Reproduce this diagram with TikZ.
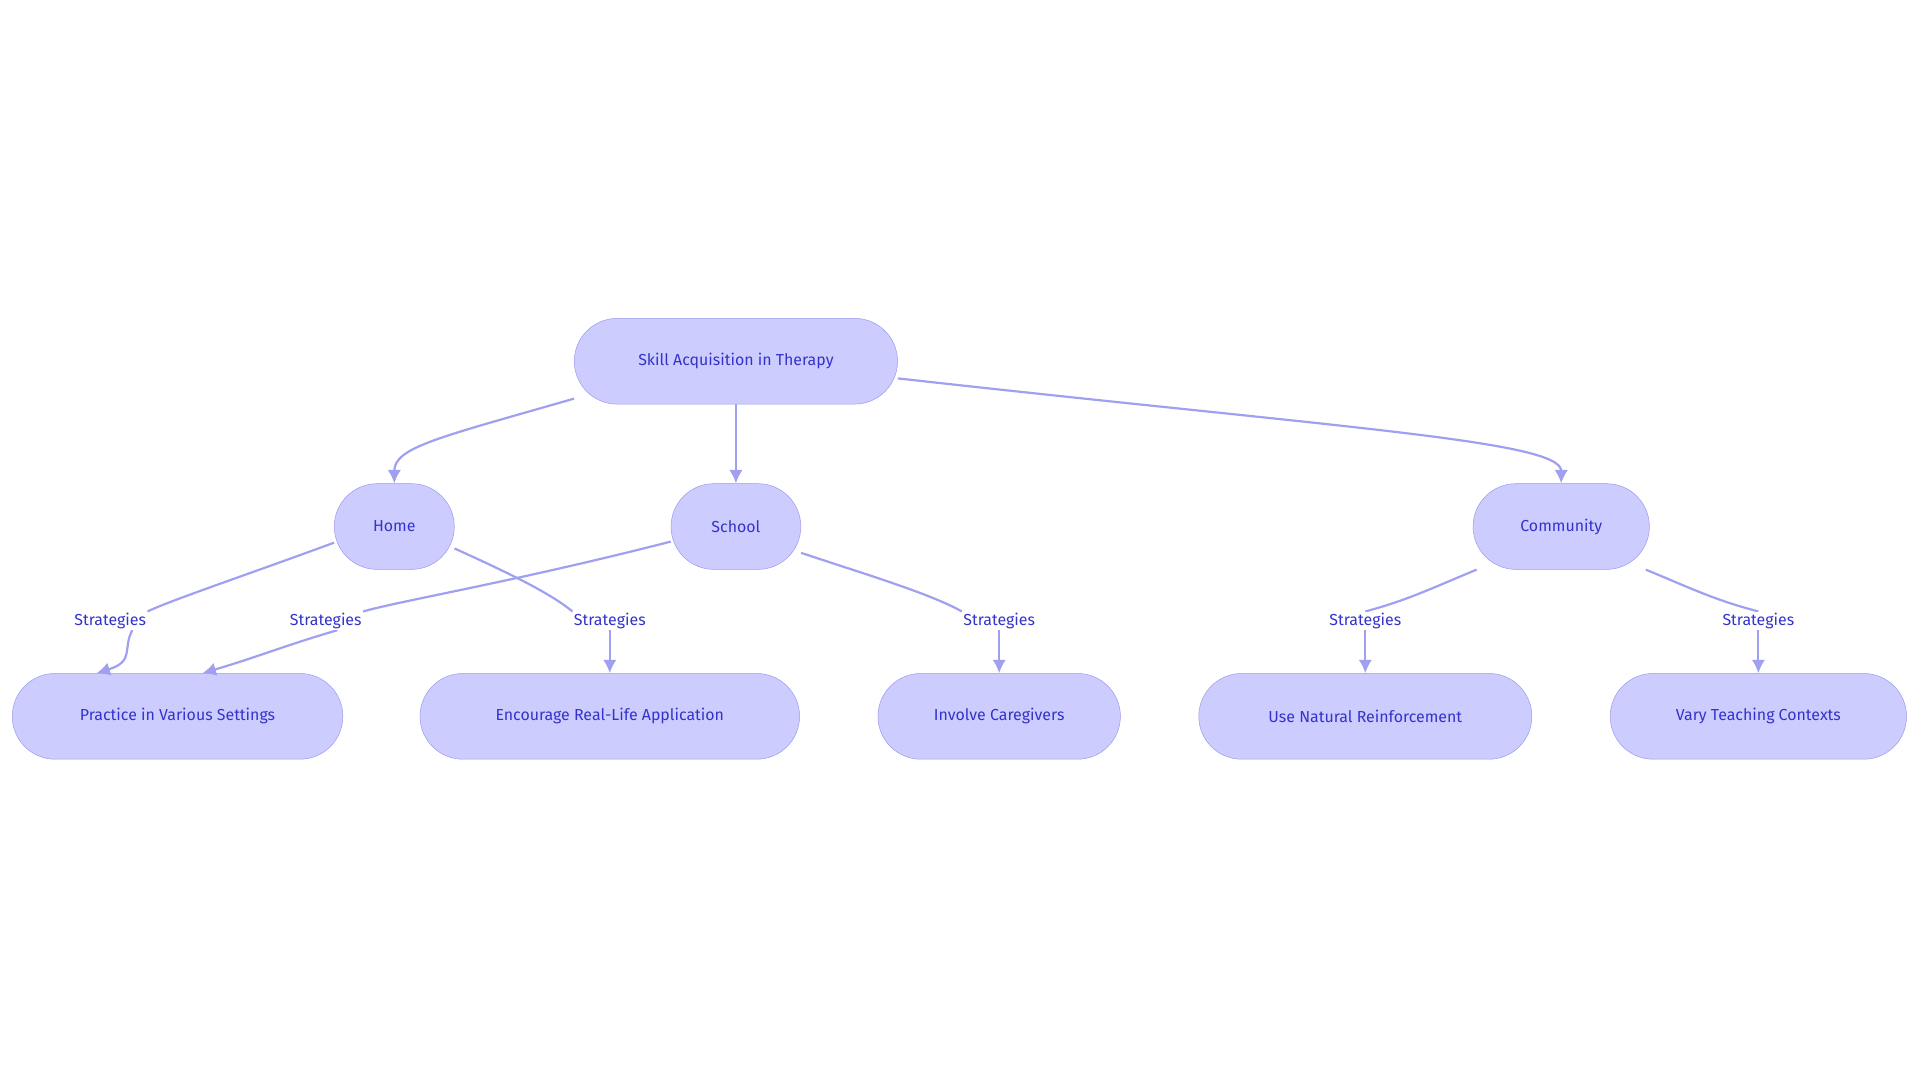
\documentclass[tikz,border=0pt]{standalone}
\usepackage{fontspec}
\setmainfont{Fira Sans}
\usetikzlibrary{arrows.meta}
\definecolor{nfill}{HTML}{CCCCFF}
\definecolor{nline}{HTML}{9999EE}
\definecolor{ntext}{HTML}{3333CC}
\definecolor{eline}{HTML}{A0A0F0}
\begin{document}
\begin{tikzpicture}[x=1pt,y=-1pt,
  box/.style={draw=nline,fill=nfill,rounded corners=35pt,minimum height=70pt,text=ntext,font=\fontsize{13}{15}\selectfont\addfontfeatures{Weight=Light},inner sep=0pt},
  lbl/.style={fill=white,text=ntext,font=\fontsize{13}{15}\selectfont\addfontfeatures{Weight=Light},inner sep=1pt},
  edge/.style={draw=eline,line width=1.8pt},
  arr/.style={edge,-{Latex[length=11pt,width=11pt]}}]
\useasboundingbox (0,0) rectangle (1568,884);
\node[box,minimum width=264pt] (root) at (601,295) {Skill Acquisition in Therapy};
\node[box,minimum width=98pt] (home) at (322,430) {Home};
\node[box,minimum width=106pt] (school) at (601,430) {School};
\node[box,minimum width=144pt] (comm) at (1275,430) {Community};
\node[box,minimum width=270pt] (prac) at (145,585) {Practice in Various Settings};
\node[box,minimum width=310pt] (enc) at (498,585) {Encourage Real-Life Application};
\node[box,minimum width=198pt] (inv) at (816,585) {Involve Caregivers};
\node[box,minimum width=272pt] (nat) at (1115,585) {Use Natural Reinforcement};
\node[box,minimum width=242pt] (vary) at (1436,585) {Vary Teaching Contexts};
% top edges
\draw[arr] (root.193) .. controls (360,357) and (322,365) .. (home.north);
\draw[arr] (root.south) -- (school.north);
\draw[arr] (root.east) ++(0,14) coordinate (rc) .. controls (1100,350) and (1275,360) .. (comm.north);
% labels
\node[lbl] (l1) at (90,507) {Strategies};
\node[lbl] (l2) at (266,507) {Strategies};
\node[lbl] (l3) at (498,507) {Strategies};
\node[lbl] (l4) at (816,507) {Strategies};
\node[lbl] (l5) at (1115,507) {Strategies};
\node[lbl] (l6) at (1436,507) {Strategies};
\begin{scope}[on background layer/.style={}]
\end{scope}
\draw[edge] (home.195) .. controls (200,470) and (140,490) .. (l1.north east);
\draw[arr] (l1.south) ++(18,0) .. controls (100,530) and (110,540) .. (prac.152);
\draw[edge] (school.193) .. controls (420,475) and (330,490) .. (l2.north east);
\draw[arr] (l2.south west) ++(40,0) .. controls (230,528) and (215,535) .. (prac.60);
\draw[edge] (home.-20) .. controls (420,470) and (450,485) .. (l3.north west) ++(12,0);
\draw[arr] (l3.south) .. controls (498,522) and (498,530) .. (enc.north);
\draw[edge] (school.-22) .. controls (710,470) and (760,485) .. (l4.north west);
\draw[arr] (l4.south) .. controls (816,522) and (816,530) .. (inv.north);
\draw[edge] (comm.-153) .. controls (1170,480) and (1150,490) .. (l5.north);
\draw[arr] (l5.south) .. controls (1115,522) and (1115,530) .. (nat.north);
\draw[edge] (comm.-27) .. controls (1380,480) and (1400,490) .. (l6.north);
\draw[arr] (l6.south) .. controls (1436,522) and (1436,530) .. (vary.north);
\node[lbl] at (l1) {Strategies};
\node[lbl] at (l2) {Strategies};
\node[lbl] at (l3) {Strategies};
\node[lbl] at (l4) {Strategies};
\node[lbl] at (l5) {Strategies};
\node[lbl] at (l6) {Strategies};
\end{tikzpicture}
\end{document}
